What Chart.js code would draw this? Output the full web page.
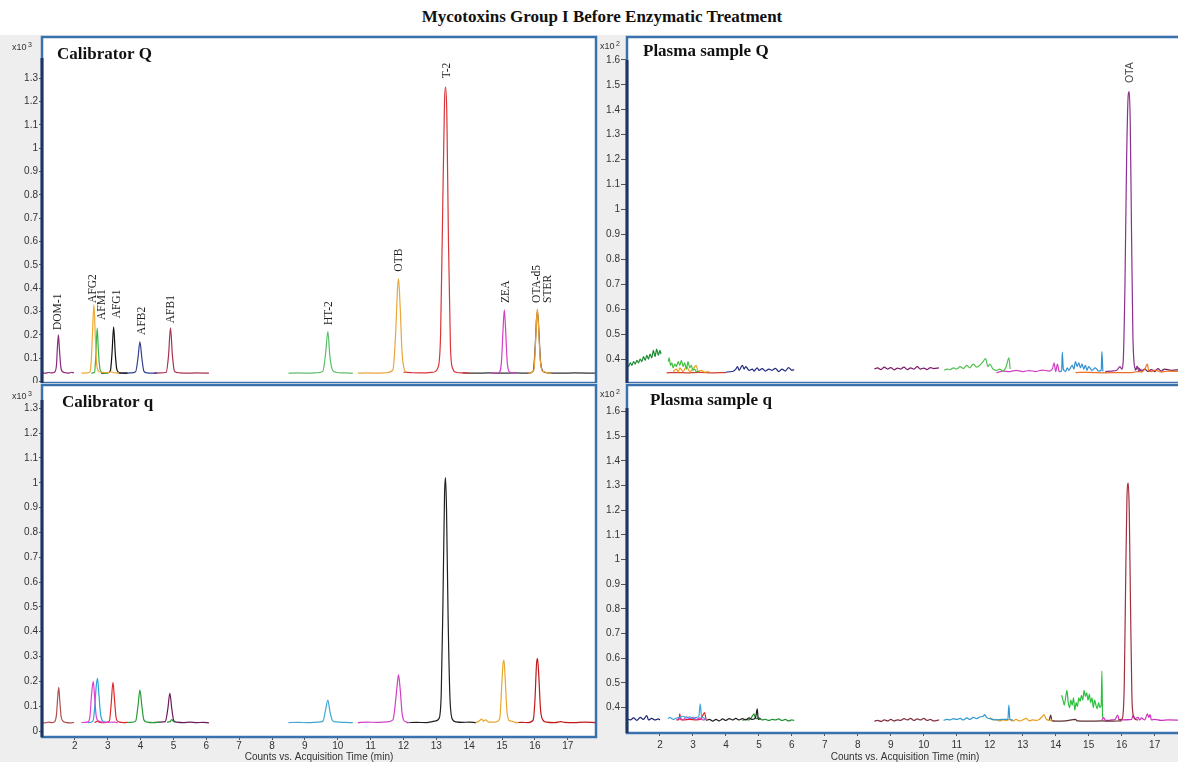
<!DOCTYPE html>
<html>
<head>
<meta charset="utf-8">
<title>Mycotoxins Group I Before Enzymatic Treatment</title>
<script src="https://cdn.jsdelivr.net/npm/chart.js@4.4.1/dist/chart.umd.min.js"></script>
<style>
    html, body { margin: 0; padding: 0; background: #fff; }
    body { width: 1178px; height: 762px; overflow: hidden; position: relative; }
    #title { position: absolute; top: 7px; left: 0; width: 1204px; text-align: center;
             font: bold 17px "Liberation Serif", serif; color: #111; }
    .panel { position: absolute; background: #eeeeee; }
    #calQ { left: 0; top: 35px; width: 600px; height: 348px; }
    #calq { left: 0; top: 383px; width: 600px; height: 379px; }
    #plaQ { left: 600px; top: 35px; width: 590px; height: 348px; }
    #plaq { left: 600px; top: 383px; width: 590px; height: 379px; }
</style>
</head>
<body>
<div id="title">Mycotoxins Group I Before Enzymatic Treatment</div>
<div class="panel" id="calQ"><canvas id="calQ-chart"></canvas></div>
<div class="panel" id="calq"><canvas id="calq-chart"></canvas></div>
<div class="panel" id="plaQ"><canvas id="plaQ-chart"></canvas></div>
<div class="panel" id="plaq"><canvas id="plaq-chart"></canvas></div>

<script>
// Tick labels
var xTicks = [2, 3, 4, 5, 6, 7, 8, 9, 10, 11, 12, 13, 14, 15, 16, 17];
var calTicks = [0, 0.1, 0.2, 0.3, 0.4, 0.5, 0.6, 0.7, 0.8, 0.9, 1, 1.1, 1.2, 1.3];
var plasmaTicks = [0.4, 0.5, 0.6, 0.7, 0.8, 0.9, 1, 1.1, 1.2, 1.3, 1.4, 1.5, 1.6];

// Calibrator Q traces  [time (min), counts x10^3]
var calQ_dom1 = [[1.0,0.038],[1.1,0.036],[1.2,0.039],[1.3,0.037],[1.38,0.04],[1.44,0.07],[1.47,0.15],[1.5,0.2],[1.53,0.14],[1.57,0.065],[1.63,0.042],[1.72,0.038],[1.8,0.036],[1.9,0.04],[1.97,0.037]];
var calQ_afg2 = [[2.2,0.036],[2.35,0.037],[2.45,0.04],[2.5,0.09],[2.54,0.22],[2.58,0.33],[2.62,0.2],[2.66,0.08],[2.72,0.045],[2.85,0.04],[3.0,0.038],[3.1,0.042],[3.2,0.038],[3.35,0.037]];
var calQ_afm1 = [[2.5,0.036],[2.6,0.04],[2.64,0.12],[2.68,0.23],[2.72,0.12],[2.77,0.05],[2.85,0.037],[3.0,0.036]];
var calQ_afg1 = [[2.8,0.036],[3.0,0.037],[3.08,0.045],[3.13,0.12],[3.18,0.235],[3.23,0.12],[3.28,0.05],[3.36,0.038],[3.5,0.036],[3.6,0.037]];
var calQ_afb2 = [[3.3,0.037],[3.5,0.036],[3.7,0.037],[3.85,0.042],[3.92,0.1],[3.98,0.17],[4.04,0.1],[4.1,0.045],[4.2,0.037],[4.35,0.036],[4.5,0.037]];
var calQ_afb1 = [[4.4,0.036],[4.6,0.037],[4.78,0.04],[4.85,0.11],[4.91,0.23],[4.97,0.11],[5.03,0.045],[5.15,0.038],[5.4,0.036],[5.7,0.037],[6.08,0.036]];
var calQ_ht2 = [[8.5,0.036],[8.8,0.037],[9.1,0.036],[9.4,0.038],[9.55,0.045],[9.63,0.12],[9.7,0.214],[9.76,0.11],[9.84,0.05],[9.95,0.04],[10.2,0.037],[10.46,0.036]];
var calQ_otb = [[10.61,0.036],[10.9,0.037],[11.2,0.036],[11.5,0.038],[11.68,0.05],[11.76,0.2],[11.82,0.4],[11.85,0.44],[11.9,0.32],[11.96,0.12],[12.03,0.05],[12.1,0.04]];
var calQ_t2 = [[12.0,0.04],[12.3,0.038],[12.6,0.037],[12.9,0.04],[13.05,0.06],[13.13,0.2],[13.19,0.7],[13.25,1.2],[13.28,1.263],[13.32,1.15],[13.37,0.6],[13.43,0.15],[13.5,0.055],[13.6,0.04],[13.8,0.037],[14.0,0.036]];
var calQ_ota = [[13.8,0.037],[14.2,0.036],[14.6,0.037],[15.0,0.036],[15.4,0.037],[15.8,0.036],[15.95,0.045],[16.01,0.15],[16.05,0.27],[16.08,0.3],[16.12,0.22],[16.17,0.09],[16.24,0.045],[16.4,0.037],[16.8,0.036],[17.2,0.037],[17.86,0.036]];
var calQ_zea = [[14.7,0.036],[14.9,0.038],[14.98,0.08],[15.03,0.22],[15.07,0.307],[15.11,0.22],[15.16,0.08],[15.24,0.04],[15.4,0.036]];
var calQ_ster = [[15.8,0.036],[15.97,0.05],[16.02,0.17],[16.06,0.29],[16.08,0.31],[16.11,0.24],[16.16,0.1],[16.23,0.045],[16.5,0.036]];

var calQNames = ['DOM-1', 'AFG2', 'AFM1', 'AFG1', 'AFB2', 'AFB1', 'HT-2', 'OTB', 'T-2', 'ZEA', 'OTA-d5', 'STER'];
var calQLabelTimes = [1.5, 2.56, 2.82, 3.27, 4.03, 4.92, 9.74, 11.86, 13.32, 15.11, 16.05, 16.41];
var calQLabelTops = [0.221, 0.337, 0.264, 0.271, 0.2, 0.25, 0.242, 0.471, 1.299, 0.337, 0.337, 0.337];

// Calibrator q traces
var calq_a = [[1.0,0.035],[1.1,0.033],[1.2,0.036],[1.3,0.034],[1.38,0.037],[1.44,0.065],[1.48,0.14],[1.51,0.176],[1.54,0.125],[1.58,0.06],[1.64,0.04],[1.72,0.035],[1.85,0.033],[1.97,0.035]];
var calq_b = [[2.2,0.034],[2.3,0.035],[2.4,0.037],[2.46,0.06],[2.51,0.15],[2.56,0.2],[2.6,0.14],[2.65,0.06],[2.72,0.04],[2.85,0.036],[3.0,0.035],[3.2,0.036],[3.3,0.034]];
var calq_c = [[2.4,0.034],[2.55,0.04],[2.6,0.09],[2.65,0.18],[2.69,0.212],[2.73,0.15],[2.78,0.07],[2.85,0.04],[3.0,0.035]];
var calq_d = [[2.6,0.034],[2.7,0.04],[2.75,0.035],[2.9,0.034],[3.05,0.04],[3.1,0.1],[3.16,0.196],[3.21,0.12],[3.26,0.05],[3.34,0.037],[3.5,0.034],[3.6,0.035]];
var calq_e = [[3.5,0.034],[3.7,0.035],[3.85,0.04],[3.92,0.1],[3.98,0.165],[4.04,0.1],[4.1,0.045],[4.2,0.036],[4.4,0.034],[4.6,0.035]];
var calq_f = [[4.4,0.034],[4.6,0.036],[4.75,0.038],[4.83,0.09],[4.89,0.152],[4.95,0.09],[5.01,0.042],[5.1,0.036],[5.3,0.034],[5.5,0.036],[5.7,0.034],[5.9,0.035],[6.08,0.033]];
var calq_g = [[4.8,0.036],[4.9,0.038],[4.95,0.046],[5.0,0.038],[5.05,0.036]];
var calq_h = [[8.5,0.034],[8.8,0.035],[9.1,0.034],[9.4,0.036],[9.55,0.04],[9.63,0.085],[9.7,0.125],[9.76,0.08],[9.84,0.042],[9.95,0.037],[10.2,0.035],[10.46,0.034]];
var calq_i = [[10.61,0.034],[10.9,0.036],[11.2,0.035],[11.5,0.037],[11.68,0.045],[11.76,0.12],[11.82,0.2],[11.85,0.226],[11.9,0.17],[11.96,0.07],[12.03,0.04],[12.2,0.034]];
var calq_j = [[12.1,0.034],[12.4,0.035],[12.7,0.034],[12.95,0.04],[13.08,0.05],[13.15,0.15],[13.2,0.5],[13.25,0.95],[13.28,1.021],[13.31,0.9],[13.36,0.45],[13.42,0.12],[13.5,0.045],[13.6,0.037],[13.8,0.035],[14.0,0.036],[14.2,0.034]];
var calq_k = [[14.2,0.034],[14.3,0.04],[14.38,0.048],[14.44,0.04],[14.5,0.045],[14.6,0.036],[14.8,0.036],[14.93,0.05],[14.99,0.18],[15.03,0.27],[15.06,0.286],[15.1,0.2],[15.15,0.08],[15.22,0.042],[15.3,0.04],[15.4,0.035],[15.5,0.034]];
var calq_l = [[15.4,0.034],[15.6,0.035],[15.8,0.034],[15.95,0.045],[16.0,0.12],[16.05,0.27],[16.08,0.293],[16.12,0.22],[16.17,0.09],[16.24,0.045],[16.35,0.036],[16.6,0.034],[16.8,0.038],[16.9,0.035],[17.2,0.034],[17.5,0.036],[17.86,0.034]];

// Plasma sample Q traces  [time (min), counts x10^2]
var plaQ_a = [[1.0,0.38],[1.05,0.37],[1.1,0.385],[1.15,0.375],[1.2,0.39],[1.25,0.38],[1.3,0.395],[1.35,0.385],[1.4,0.40],[1.45,0.39],[1.5,0.41],[1.55,0.395],[1.6,0.415],[1.65,0.40],[1.7,0.42],[1.75,0.405],[1.8,0.435],[1.85,0.41],[1.9,0.44],[1.95,0.415],[2.0,0.435],[2.03,0.42]];
var plaQ_b = [[2.25,0.39],[2.28,0.405],[2.32,0.375],[2.36,0.385],[2.4,0.365],[2.45,0.38],[2.5,0.37],[2.55,0.39],[2.6,0.375],[2.65,0.395],[2.7,0.37],[2.75,0.385],[2.8,0.36],[2.85,0.39],[2.9,0.365],[2.95,0.375],[3.0,0.355],[3.05,0.36],[3.1,0.35],[3.2,0.352]];
var plaQ_c = [[2.4,0.35],[2.5,0.36],[2.55,0.348],[2.6,0.365],[2.7,0.35],[2.8,0.37],[2.9,0.35],[3.0,0.36],[3.1,0.375],[3.15,0.35],[3.25,0.355],[3.35,0.348],[3.5,0.35]];
var plaQ_d = [[2.2,0.345],[2.5,0.346],[2.8,0.345],[3.2,0.347],[3.6,0.345],[4.0,0.346]];
var plaQ_e = [[4.0,0.348],[4.2,0.35],[4.3,0.36],[4.35,0.37],[4.4,0.355],[4.5,0.375],[4.55,0.36],[4.6,0.37],[4.7,0.355],[4.8,0.36],[4.85,0.352],[4.95,0.365],[5.0,0.355],[5.1,0.362],[5.2,0.352],[5.3,0.36],[5.4,0.355],[5.5,0.363],[5.6,0.35],[5.7,0.36],[5.8,0.352],[5.9,0.366],[6.0,0.355],[6.07,0.358]];
var plaQ_f = [[8.5,0.36],[8.6,0.365],[8.7,0.358],[8.8,0.368],[8.9,0.36],[9.0,0.366],[9.1,0.357],[9.2,0.364],[9.3,0.36],[9.4,0.368],[9.5,0.358],[9.6,0.365],[9.7,0.36],[9.8,0.37],[9.9,0.36],[10.0,0.364],[10.1,0.358],[10.2,0.366],[10.3,0.362],[10.46,0.365]];
var plaQ_g = [[10.62,0.355],[10.7,0.36],[10.8,0.358],[10.9,0.365],[11.0,0.36],[11.1,0.37],[11.2,0.362],[11.3,0.375],[11.4,0.365],[11.5,0.38],[11.6,0.368],[11.7,0.375],[11.8,0.39],[11.87,0.402],[11.95,0.37],[12.0,0.38],[12.1,0.36],[12.2,0.355],[12.3,0.36],[12.4,0.352],[12.5,0.37],[12.58,0.405],[12.62,0.36]];
var plaQ_h = [[12.2,0.345],[12.4,0.352],[12.6,0.35],[12.8,0.355],[13.0,0.35],[13.2,0.354],[13.4,0.35],[13.6,0.356],[13.8,0.352],[13.9,0.36],[13.95,0.385],[14.0,0.35],[14.05,0.38],[14.1,0.35]];
var plaQ_i = [[14.1,0.35],[14.18,0.352],[14.2,0.428],[14.23,0.36],[14.3,0.35],[14.35,0.365],[14.4,0.355],[14.5,0.375],[14.55,0.36],[14.6,0.39],[14.65,0.37],[14.7,0.385],[14.75,0.365],[14.8,0.38],[14.85,0.36],[14.9,0.375],[14.95,0.355],[15.0,0.37],[15.1,0.355],[15.2,0.365],[15.3,0.352],[15.38,0.355],[15.4,0.43],[15.43,0.35]];
var plaQ_j = [[15.5,0.35],[15.7,0.352],[15.85,0.355],[15.95,0.37],[16.0,0.36],[16.05,0.4],[16.1,0.7],[16.15,1.2],[16.2,1.46],[16.23,1.473],[16.26,1.35],[16.3,0.9],[16.34,0.5],[16.38,0.38],[16.42,0.36],[16.47,0.372],[16.52,0.352],[16.6,0.36]];
var plaQ_k = [[14.6,0.346],[15.0,0.347],[15.5,0.345],[16.0,0.346],[16.3,0.346],[16.5,0.35],[16.6,0.348],[16.7,0.36],[16.78,0.38],[16.82,0.352],[16.9,0.35],[17.0,0.356],[17.2,0.348],[17.4,0.352],[17.86,0.35]];
var plaQ_l = [[16.4,0.355],[16.5,0.365],[16.6,0.352],[16.7,0.36],[16.8,0.35],[16.9,0.358],[17.0,0.35],[17.1,0.362],[17.2,0.352],[17.3,0.36],[17.5,0.355],[17.86,0.36]];

var plaQNames = ['OTA'];
var plaQLabelTimes = [16.26];
var plaQLabelTops = [1.507];

// Plasma sample q traces
var plaq_a = [[1.0,0.355],[1.1,0.35],[1.2,0.358],[1.3,0.348],[1.4,0.36],[1.5,0.352],[1.6,0.368],[1.65,0.35],[1.75,0.356],[1.85,0.35],[1.95,0.354],[2.0,0.35]];
var plaq_b = [[2.25,0.355],[2.3,0.36],[2.4,0.352],[2.5,0.358],[2.6,0.36],[2.7,0.365],[2.8,0.358],[2.9,0.362],[3.0,0.355],[3.1,0.36],[3.18,0.365],[3.22,0.415],[3.26,0.365],[3.3,0.36],[3.4,0.352]];
var plaq_c = [[2.5,0.35],[2.6,0.358],[2.7,0.35],[2.8,0.362],[2.9,0.355],[3.0,0.36],[3.1,0.352],[3.2,0.358],[3.3,0.35],[3.4,0.352]];
var plaq_d = [[2.5,0.35],[2.58,0.352],[2.6,0.375],[2.63,0.352],[2.7,0.35],[2.9,0.352],[3.1,0.35],[3.25,0.355],[3.35,0.38],[3.4,0.35]];
var plaq_e = [[3.4,0.348],[3.5,0.352],[3.6,0.345],[3.7,0.352],[3.8,0.346],[3.9,0.354],[4.0,0.348],[4.1,0.355],[4.2,0.35],[4.3,0.356],[4.4,0.35],[4.5,0.355],[4.6,0.35],[4.7,0.358],[4.8,0.352],[4.9,0.36],[4.95,0.395],[4.98,0.352],[5.05,0.355]];
var plaq_f = [[4.5,0.348],[4.6,0.352],[4.7,0.35],[4.8,0.365],[4.85,0.375],[4.9,0.355],[5.0,0.358],[5.1,0.35],[5.2,0.352],[5.3,0.348],[5.4,0.352],[5.5,0.35],[5.6,0.354],[5.7,0.348],[5.8,0.352],[5.9,0.346],[6.0,0.35],[6.07,0.348]];
var plaq_g = [[8.5,0.345],[8.6,0.348],[8.7,0.344],[8.8,0.35],[8.9,0.346],[9.0,0.352],[9.1,0.346],[9.2,0.35],[9.3,0.348],[9.4,0.355],[9.5,0.35],[9.6,0.356],[9.7,0.348],[9.8,0.354],[9.9,0.35],[10.0,0.356],[10.1,0.348],[10.2,0.352],[10.3,0.346],[10.46,0.35]];
var plaq_h = [[10.6,0.348],[10.7,0.352],[10.8,0.35],[10.9,0.355],[11.0,0.352],[11.1,0.356],[11.2,0.35],[11.3,0.358],[11.4,0.352],[11.5,0.36],[11.6,0.355],[11.7,0.362],[11.8,0.365],[11.85,0.372],[11.9,0.36],[12.0,0.355],[12.1,0.352],[12.2,0.35],[12.4,0.352],[12.55,0.352],[12.58,0.41],[12.61,0.352],[12.7,0.35]];
var plaq_i = [[12.0,0.36],[12.1,0.35],[12.2,0.352],[12.3,0.346],[12.4,0.35],[12.5,0.348],[12.6,0.352],[12.7,0.346],[12.8,0.352],[12.9,0.346],[13.0,0.35],[13.1,0.356],[13.2,0.346],[13.3,0.35],[13.4,0.348],[13.5,0.352],[13.6,0.365],[13.65,0.372],[13.7,0.355],[13.8,0.348],[13.9,0.35]];
var plaq_j = [[13.8,0.346],[13.85,0.37],[13.88,0.347],[14.0,0.345],[14.3,0.346],[14.6,0.352],[14.65,0.346],[15.0,0.345],[15.4,0.346],[15.7,0.345],[16.0,0.346]];
var plaq_k = [[14.18,0.45],[14.22,0.43],[14.26,0.41],[14.3,0.44],[14.34,0.47],[14.38,0.42],[14.42,0.4],[14.46,0.43],[14.5,0.41],[14.54,0.44],[14.58,0.39],[14.62,0.42],[14.66,0.405],[14.7,0.44],[14.74,0.425],[14.78,0.45],[14.82,0.43],[14.86,0.47],[14.9,0.445],[14.94,0.46],[14.98,0.43],[15.02,0.455],[15.06,0.42],[15.1,0.44],[15.14,0.4],[15.18,0.43],[15.22,0.41],[15.26,0.395],[15.3,0.42],[15.34,0.4],[15.38,0.41],[15.4,0.548],[15.42,0.36]];
var plaq_l = [[15.4,0.35],[15.45,0.36],[15.5,0.35],[15.6,0.348],[15.7,0.35],[15.8,0.352],[15.88,0.37],[15.92,0.352],[16.0,0.35],[16.3,0.352],[16.35,0.37],[16.4,0.355],[16.5,0.36],[16.55,0.35],[16.6,0.358],[16.7,0.35],[16.78,0.375],[16.82,0.36],[16.86,0.372],[16.9,0.35],[17.0,0.352],[17.2,0.348],[17.4,0.35],[17.86,0.348]];
var plaq_m = [[15.9,0.35],[16.0,0.352],[16.04,0.37],[16.08,0.5],[16.12,0.9],[16.16,1.25],[16.2,1.31],[16.23,1.2],[16.27,0.8],[16.31,0.45],[16.35,0.37],[16.42,0.352],[16.5,0.35]];


(function () {
    "use strict";

    var sans = '"Liberation Sans", Arial, sans-serif';
    var serif = '"Liberation Serif", "Times New Roman", serif';

    // Frame, panel title, exponent and peak labels
    var decor = {
        id: 'decor',
        beforeDraw: function (chart) {
            var a = chart.chartArea, ctx = chart.ctx;
            ctx.save();
            ctx.fillStyle = '#ffffff';
            ctx.fillRect(a.left, a.top, a.right - a.left, a.bottom - a.top);
            ctx.restore();
        },
        afterDraw: function (chart, args, o) {
            var a = chart.chartArea, ctx = chart.ctx;
            var xs = chart.scales.x, ys = chart.scales.y;
            ctx.save();

            // peak labels
            ctx.fillStyle = o.labelColor;
            ctx.font = o.labelFont;
            ctx.textAlign = 'left';
            ctx.textBaseline = 'middle';
            for (var i = 0; i < o.names.length; i++) {
                ctx.save();
                ctx.translate(xs.getPixelForValue(o.times[i]), ys.getPixelForValue(o.tops[i]));
                ctx.rotate(-Math.PI / 2);
                ctx.fillText(o.names[i], 0, 0);
                ctx.restore();
            }

            // frame
            ctx.strokeStyle = '#3a72ad';
            ctx.lineWidth = 2.5;
            ctx.strokeRect(a.left, a.top, a.right - a.left, a.bottom - a.top);
            ctx.strokeStyle = '#1d3560';
            ctx.lineWidth = 3;
            ctx.beginPath();
            ctx.moveTo(a.left, a.top + o.axisDy);
            ctx.lineTo(a.left, a.bottom);
            ctx.stroke();

            // panel title
            ctx.fillStyle = '#111';
            ctx.font = 'bold 17px ' + serif;
            ctx.fillText(o.title, a.left + o.titleDx, a.top + o.titleDy);

            // x10^n
            ctx.fillStyle = '#333';
            ctx.font = '9px ' + sans;
            ctx.fillText('x10', o.expX, a.top + o.expDy);
            var w = ctx.measureText('x10').width;
            ctx.font = '7px ' + sans;
            ctx.fillText(o.exp, o.expX + w + 1.5, a.top + o.expDy - 3);
            ctx.restore();
        }
    };

    function line(data, color) {
        return {
            data: data,
            borderColor: color,
            borderWidth: 1.2,
            pointRadius: 0,
            fill: false,
            cubicInterpolationMode: 'monotone'
        };
    }

    function makeChart(id, sets, p) {
        var ctx = document.getElementById(id).getContext('2d');
        return new Chart(ctx, {
            type: 'line',
            data: { datasets: sets },
            plugins: [decor],
            options: {
                responsive: true,
                maintainAspectRatio: false,
                animation: false,
                layout: { padding: { top: 2, right: p.padRight, left: 0, bottom: 0 } },
                plugins: {
                    legend: { display: false },
                    tooltip: { enabled: false },
                    decor: p.decor
                },
                scales: {
                    x: {
                        type: 'linear',
                        min: 1,
                        max: 17.86,
                        display: p.showX,
                        afterBuildTicks: function (s) {
                            s.ticks = xTicks.map(function (v) { return { value: v }; });
                        },
                        afterFit: function (s) {
                            s.height = p.xHeight;
                            s.paddingLeft = 0;
                            s.paddingRight = 0;
                        },
                        grid: { drawOnChartArea: false, tickLength: 3, color: '#555' },
                        border: { display: false },
                        ticks: {
                            font: { family: sans, size: 10 },
                            color: '#333',
                            padding: p.xPad,
                            maxRotation: 0,
                            autoSkip: false
                        },
                        title: {
                            display: true,
                            text: 'Counts vs. Acquisition Time (min)',
                            font: { family: sans, size: 10, lineHeight: 1 },
                            color: '#333',
                            padding: 0
                        }
                    },
                    y: {
                        type: 'linear',
                        min: p.yMin,
                        max: p.yMax,
                        afterBuildTicks: function (s) {
                            s.ticks = p.yTicks.map(function (v) { return { value: v }; });
                        },
                        afterFit: function (s) {
                            s.width = p.yWidth;
                            s.paddingTop = 0;
                            s.paddingBottom = 0;
                        },
                        grid: { drawOnChartArea: false, tickLength: p.yTickLen, color: '#555' },
                        border: { display: false },
                        ticks: {
                            font: { family: sans, size: 10 },
                            color: '#333',
                            padding: 1,
                            callback: function (v) { return String(v); }
                        }
                    }
                }
            }
        });
    }


    // Calibrator Q
    makeChart('calQ-chart', [
        line(calQ_dom1, '#8a2b7d'),
        line(calQ_afg2, '#f0a830'),
        line(calQ_afm1, '#3cb44b'),
        line(calQ_afg1, '#111111'),
        line(calQ_afb2, '#34408f'),
        line(calQ_afb1, '#a8324e'),
        line(calQ_ht2, '#5bbf6a'),
        line(calQ_otb, '#e9a63a'),
        line(calQ_t2, '#d8363a'),
        line(calQ_zea, '#d63fc4'),
        line(calQ_ster, '#f0a030'),
        line(calQ_ota, '#333333')
    ], {
        yMin: -0.006, yMax: 1.476, yTicks: calTicks, yWidth: 42, yTickLen: 3,
        showX: false, xHeight: 0, xPad: 0, padRight: 4,
        decor: {
            title: 'Calibrator Q', titleDx: 15, titleDy: 18,
            exp: '3', expX: 12, expDy: 11, axisDy: 21,
            names: calQNames, times: calQLabelTimes, tops: calQLabelTops,
            labelFont: '11.5px ' + serif, labelColor: '#222'
        }
    });


    // Calibrator q
    makeChart('calq-chart', [
        line(calq_a, '#b05050'),
        line(calq_b, '#e040d0'),
        line(calq_c, '#2aa5d5'),
        line(calq_d, '#e02828'),
        line(calq_e, '#2a9a3a'),
        line(calq_g, '#2a9a3a'),
        line(calq_f, '#6a1a5a'),
        line(calq_h, '#40a8d0'),
        line(calq_i, '#d040c8'),
        line(calq_j, '#202020'),
        line(calq_k, '#e8a830'),
        line(calq_l, '#c01818')
    ], {
        yMin: -0.024, yMax: 1.394, yTicks: calTicks, yWidth: 42, yTickLen: 3,
        showX: true, xHeight: 25, xPad: 0, padRight: 4,
        decor: {
            title: 'Calibrator q', titleDx: 20, titleDy: 18,
            exp: '3', expX: 12, expDy: 12, axisDy: 15,
            names: [], times: [], tops: [],
            labelFont: '11.5px ' + serif, labelColor: '#222'
        }
    });


    // Plasma sample Q
    makeChart('plaQ-chart', [
        line(plaQ_j, '#8a3090'),
        line(plaQ_a, '#1a8a30'),
        line(plaQ_b, '#40c040'),
        line(plaQ_c, '#f0a020'),
        line(plaQ_d, '#d04030'),
        line(plaQ_e, '#202880'),
        line(plaQ_f, '#7a1a6a'),
        line(plaQ_g, '#50c050'),
        line(plaQ_i, '#3090d0'),
        line(plaQ_h, '#d040c0'),
        line(plaQ_k, '#f07020'),
        line(plaQ_l, '#6a2060')
    ], {
        yMin: 0.304, yMax: 1.692, yTicks: plasmaTicks, yWidth: 27, yTickLen: 6,
        showX: false, xHeight: 0, xPad: 0, padRight: 7,
        decor: {
            title: 'Plasma sample Q', titleDx: 16, titleDy: 15,
            exp: '2', expX: 0, expDy: 10, axisDy: 23,
            names: plaQNames, times: plaQLabelTimes, tops: plaQLabelTops,
            labelFont: '10.5px ' + sans, labelColor: '#444'
        }
    });


    // Plasma sample q
    makeChart('plaq-chart', [
        line(plaq_m, '#a03040'),
        line(plaq_k, '#30c040'),
        line(plaq_a, '#1a2070'),
        line(plaq_b, '#40a8d8'),
        line(plaq_c, '#d040d0'),
        line(plaq_d, '#e02020'),
        line(plaq_e, '#202020'),
        line(plaq_f, '#209030'),
        line(plaq_g, '#803040'),
        line(plaq_h, '#3098d0'),
        line(plaq_i, '#e8a020'),
        line(plaq_j, '#603030'),
        line(plaq_l, '#d030c0')
    ], {
        yMin: 0.297, yMax: 1.708, yTicks: plasmaTicks, yWidth: 27, yTickLen: 6,
        showX: true, xHeight: 29, xPad: 3, padRight: 7,
        decor: {
            title: 'Plasma sample q', titleDx: 23, titleDy: 16,
            exp: '2', expX: 0, expDy: 10, axisDy: 23,
            names: [], times: [], tops: [],
            labelFont: '10.5px ' + sans, labelColor: '#444'
        }
    });

})();
</script>
</body>
</html>
